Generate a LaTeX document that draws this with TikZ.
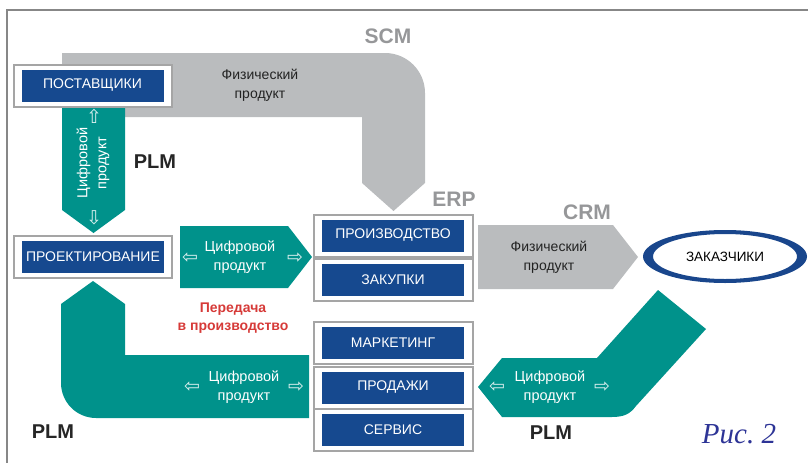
\documentclass[tikz,border=0pt]{standalone}
\usepackage{fontspec}
\setmainfont{Liberation Sans}
\newfontfamily\symf{DejaVu Sans}
\newfontfamily\picf{Liberation Serif}
\usetikzlibrary{shapes.geometric}
\definecolor{tealc}{RGB}{0,146,139}
\definecolor{boxblue}{RGB}{22,73,143}
\definecolor{bandgray}{RGB}{186,188,190}
\definecolor{labgray}{RGB}{150,151,153}
\definecolor{framegray}{RGB}{165,165,165}
\definecolor{bordergray}{RGB}{135,135,135}
\definecolor{redc}{RGB}{214,58,56}
\definecolor{darktext}{RGB}{35,35,35}
\definecolor{picblue}{RGB}{45,52,150}
\definecolor{ringblue}{RGB}{25,70,140}
\begin{document}
\begin{tikzpicture}[x=1pt,y=-1pt,
  frame/.style={draw=framegray, line width=2pt, fill=white, minimum width=158pt, minimum height=42pt, inner sep=0pt},
  box/.style={fill=boxblue, text=white, minimum width=142pt, minimum height=32pt, inner sep=0pt, font=\fontsize{14}{16}\selectfont},
  sys/.style={text=labgray, font=\bfseries\fontsize{21}{24}\selectfont},
  plm/.style={text=black!85, font=\bfseries\fontsize{20}{24}\selectfont},
  wtxt/.style={text=white, align=center, font=\fontsize{14.5}{19}\selectfont},
  gtxt/.style={text=darktext, align=center, font=\fontsize{14}{19}\selectfont},
  arr/.style={text=white!85!tealc, font=\symf\fontsize{19}{19}\selectfont, inner sep=0pt}]
\useasboundingbox (0,0) rectangle (808,463);
% page frame
\draw[bordergray, line width=1.5pt] (808,10) -- (7,10) -- (7,463);
% SCM band
\fill[bandgray] (62,53) -- (385,53) .. controls (407.1,53) and (425,70.9) .. (425,93)
  -- (425,183) -- (393.5,211) -- (362,183) -- (362,117) -- (62,117) -- cycle;
% vertical PLM arrow
\fill[tealc] (62,100) -- (125,100) -- (125,210) -- (93.5,233) -- (62,210) -- cycle;
% middle teal arrow
\fill[tealc] (180,226) -- (288,226) -- (312,257) -- (288,288) -- (180,288) -- cycle;
% lower L-shaped teal
\fill[tealc] (93,281) -- (125,304) -- (125,355) -- (309,355) -- (309,418) -- (96,418)
  .. controls (76.7,418) and (61,402.3) .. (61,383) -- (61,304) -- cycle;
% CRM gray arrow
\fill[bandgray] (478,225) -- (613,225) -- (638,257) -- (613,289) -- (478,289) -- cycle;
% lower right teal
\fill[tealc] (478,387) -- (502,358) -- (597,358) -- (658,290) -- (706,329) -- (636,406)
  .. controls (630,414) and (624,417) .. (612,417) -- (502,417) -- cycle;

% boxes
\node[frame] (fpost) at (92.5,85.5) {};
\node[box] (post) at (fpost) {ПОСТАВЩИКИ};
\node[frame] (fproj) at (93,257) {};
\node[box] (proj) at (fproj) {ПРОЕКТИРОВАНИЕ};
\node[frame, minimum width=159pt] (fprod) at (393,235.5) {};
\node[box] (prod) at (fprod) {ПРОИЗВОДСТВО};
\node[frame, minimum width=159pt] (fzak) at (393,279.5) {};
\node[box] (zak) at (fzak) {ЗАКУПКИ};
\node[frame, minimum width=159pt] (fmark) at (393,343) {};
\node[box] (mark) at (fmark) {МАРКЕТИНГ};
\node[frame, minimum width=159pt] (fsale) at (393,387.5) {};
\node[box] (sale) at (fsale) {ПРОДАЖИ};
\node[frame, minimum width=159pt] (fserv) at (393,429.5) {};
\node[box] (serv) at (fserv) {СЕРВИС};

% customers ellipse
\fill[ringblue, even odd rule] (725,256.5) ellipse [x radius=82, y radius=26.5]
  (725,256.5) ellipse [x radius=72, y radius=22.5];
\node[text=black, font=\fontsize{13.5}{16}\selectfont] (cust) at (725,257) {ЗАКАЗЧИКИ};

% system labels
\node[sys] (scm) at (388,36) {SCM};
\node[sys] (erp) at (454,199) {ERP};
\node[sys] (crm) at (587,212) {CRM};
\node[plm] (plm1) at (155,162) {PLM};
\node[plm] (plm2) at (53,432) {PLM};
\node[plm] (plm3) at (551,433) {PLM};

% band texts
\node[gtxt] (phys1) at (260,85) {Физический\\продукт};
\node[gtxt] (phys2) at (549,257) {Физический\\продукт};
\node[wtxt, rotate=90] (dig1) at (93,163) {Цифровой\\продукт};
\node[wtxt] (dig2) at (240,257.5) {Цифровой\\продукт};
\node[wtxt] (dig3) at (244,387) {Цифровой\\продукт};
\node[wtxt] (dig4) at (550,387) {Цифровой\\продукт};
\node[text=redc, align=center, font=\bfseries\fontsize{14}{18}\selectfont] (trans) at (233,318.5) {Передача\\в производство};

% hollow arrows
\node[arr] (a1) at (94,116) {⇧};
\node[arr] (a2) at (94,218) {⇩};
\node[arr] (a3) at (190,258) {⇦};
\node[arr] (a4) at (295,258) {⇨};
\node[arr] (a5) at (192,387) {⇦};
\node[arr] (a6) at (296,387) {⇨};
\node[arr] (a7) at (497,387) {⇦};
\node[arr] (a8) at (602,387) {⇨};

% figure caption
\node[text=picblue, font=\picf\itshape\fontsize{29}{32}\selectfont] (fig) at (739,434) {Рис.~2};
\end{tikzpicture}
\end{document}
